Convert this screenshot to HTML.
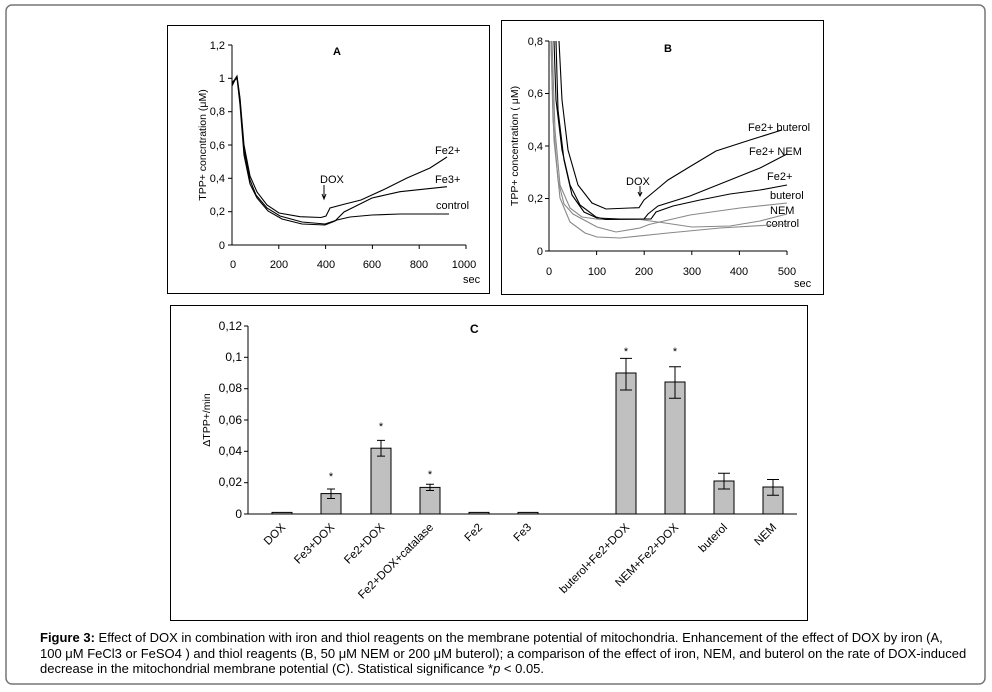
<!DOCTYPE html>
<html><head><meta charset="utf-8"><style>
body{margin:0;background:#fff;width:992px;height:692px;overflow:hidden}
svg{font-family:"Liberation Sans",Arial,sans-serif}
.cap{position:absolute;left:40px;top:630px;white-space:nowrap;font:13px/15.5px "Liberation Sans",Arial,sans-serif;color:#000}
</style></head><body>
<svg width="992" height="692" style="position:absolute;left:0;top:0">
<rect x="6" y="5" width="979" height="679" rx="6" fill="none" stroke="#777" stroke-width="1.5"/>
<!-- Panel A -->
<rect x="167.5" y="25.5" width="322" height="268" fill="none" stroke="#000"/>
<g font-size="11" fill="#000" stroke="none">
<line x1="232" y1="45" x2="232" y2="245" stroke="#000"/>
<line x1="232" y1="245" x2="466" y2="245" stroke="#000"/>
<g stroke="#000"><line x1="228" y1="45" x2="232" y2="45"/><line x1="228" y1="78.3" x2="232" y2="78.3"/><line x1="228" y1="111.7" x2="232" y2="111.7"/><line x1="228" y1="145" x2="232" y2="145"/><line x1="228" y1="178.3" x2="232" y2="178.3"/><line x1="228" y1="211.7" x2="232" y2="211.7"/><line x1="228" y1="245" x2="232" y2="245"/>
<line x1="278.8" y1="245" x2="278.8" y2="249"/><line x1="325.6" y1="245" x2="325.6" y2="249"/><line x1="372.4" y1="245" x2="372.4" y2="249"/><line x1="419.2" y1="245" x2="419.2" y2="249"/><line x1="466" y1="245" x2="466" y2="249"/></g>
<g text-anchor="end"><text x="225" y="49">1,2</text><text x="225" y="82">1</text><text x="225" y="115">0,8</text><text x="225" y="149">0,6</text><text x="225" y="182">0,4</text><text x="225" y="215">0,2</text><text x="225" y="249">0</text></g>
<g text-anchor="middle"><text x="233" y="268">0</text><text x="279" y="268">200</text><text x="326" y="268">400</text><text x="372" y="268">600</text><text x="419" y="268">800</text><text x="464" y="268">1000</text></g>
<text x="463" y="283">sec</text>
<text x="333" y="55" font-weight="bold">A</text>
<text transform="translate(206,145) rotate(-90)" text-anchor="middle" font-size="10.5">TPP+ concntration (μM)</text>
<text x="320" y="183">DOX</text><text x="435" y="154">Fe2+</text><text x="435" y="183">Fe3+</text><text x="436" y="209">control</text>
</g>
<line x1="324" y1="185" x2="324" y2="198" stroke="#000"/><path d="M322,194 L324,199 L326,194" fill="none" stroke="#000"/>
<g fill="none" stroke="#000" stroke-width="1.1">
<path d="M232,82 L235,80 L237,77 L240,100 L244,150 L250,180 L256,195 L267,208 L280,216 L302,222 L325,224 L337,220 L350,217 L372,215 L400,214 L449,214"/>
<path d="M232,86 L235,80 L237,78 L240,105 L244,155 L250,184 L257,198 L268,211 L282,219 L302,224 L325,225 L335,221 L344,212 L372,198 L400,191.7 L447,186.7"/>
<path d="M232,84 L235,79 L237,76 L240,98 L244,145 L250,176 L257,192 L267,205 L279,213 L300,216.7 L321,217.5 L326,216 L330,208 L345,204 L361,200 L385,189 L407,178 L430,168 L447,157"/>
</g>
<!-- Panel B -->
<rect x="501.5" y="20.5" width="322" height="274" fill="none" stroke="#000"/>
<g font-size="11" fill="#000">
<line x1="549" y1="41" x2="549" y2="251" stroke="#000"/>
<line x1="549" y1="251" x2="787" y2="251" stroke="#000"/>
<g stroke="#000"><line x1="545" y1="41" x2="549" y2="41"/><line x1="545" y1="93.5" x2="549" y2="93.5"/><line x1="545" y1="146" x2="549" y2="146"/><line x1="545" y1="198.5" x2="549" y2="198.5"/><line x1="545" y1="251" x2="549" y2="251"/>
<line x1="596.6" y1="251" x2="596.6" y2="255"/><line x1="644.2" y1="251" x2="644.2" y2="255"/><line x1="691.8" y1="251" x2="691.8" y2="255"/><line x1="739.4" y1="251" x2="739.4" y2="255"/><line x1="787" y1="251" x2="787" y2="255"/></g>
<g text-anchor="end"><text x="543" y="45">0,8</text><text x="543" y="97">0,6</text><text x="543" y="150">0,4</text><text x="543" y="202">0,2</text><text x="543" y="255">0</text></g>
<g text-anchor="middle"><text x="549" y="275">0</text><text x="597" y="275">100</text><text x="644" y="275">200</text><text x="692" y="275">300</text><text x="739" y="275">400</text><text x="787" y="275">500</text></g>
<text x="794" y="287">sec</text>
<text x="664" y="52" font-weight="bold">B</text>
<text transform="translate(518,146) rotate(-90)" text-anchor="middle" font-size="10.5">TPP+ concentration ( μM)</text>
<text x="626" y="185">DOX</text><text x="748" y="131">Fe2+ buterol</text><text x="749" y="155">Fe2+ NEM</text><text x="767" y="180">Fe2+</text><text x="770" y="199">buterol</text><text x="770" y="214">NEM</text><text x="766" y="227">control</text>
</g>
<line x1="640" y1="186" x2="640" y2="196" stroke="#000"/><path d="M638,192 L640,196 L642,192" fill="none" stroke="#000"/>
<g fill="none" stroke="#888" stroke-width="1.1">
<path d="M551,41 L553,120 L558,180 L564,204 L573,214 L597,227 L616,232 L640,228 L649,224.5 L690,215 L740,208 L787,203"/>
<path d="M552,41 L555,130 L560,185 L570,208 L582,217 L600,219.5 L640,219.5 L665,223 L692,227 L730,226 L760,221 L787,214"/>
<path d="M551,41 L554,140 L560,198 L570,222 L585,233 L597,237 L620,238 L668,233 L720,228 L787,224"/>
</g>
<g fill="none" stroke="#000" stroke-width="1.1">
<path d="M559,41 L562,100 L568,150 L578,185 L592,203 L606,209 L630,208 L639,207.7 L644,200 L656,190 L668,180 L691,166 L716,151 L750,140 L782,130"/>
<path d="M554,41 L556,100 L562,150 L570,185 L580,205 L596,217 L606,219.5 L644,219 L648,214 L658,206 L690,196 L730,180 L760,168 L787,154"/>
<path d="M556,41 L558,110 L564,160 L572,195 L584,212 L597,218 L620,219 L651,219 L656,212 L673,206 L700,200 L730,194 L760,190 L787,185"/>
</g>
<!-- Panel C -->
<rect x="170.5" y="305.5" width="637" height="315" fill="none" stroke="#000"/>
<g font-size="12" fill="#000">
<line x1="248" y1="326" x2="248" y2="514" stroke="#000"/>
<line x1="248" y1="514" x2="797" y2="514" stroke="#000"/>
<g stroke="#000"><line x1="244" y1="326" x2="248" y2="326"/><line x1="244" y1="357.3" x2="248" y2="357.3"/><line x1="244" y1="388.7" x2="248" y2="388.7"/><line x1="244" y1="420" x2="248" y2="420"/><line x1="244" y1="451.3" x2="248" y2="451.3"/><line x1="244" y1="482.7" x2="248" y2="482.7"/><line x1="244" y1="514" x2="248" y2="514"/></g>
<g text-anchor="end"><text x="242" y="330">0,12</text><text x="242" y="361">0,1</text><text x="242" y="392">0,08</text><text x="242" y="424">0,06</text><text x="242" y="455">0,04</text><text x="242" y="486">0,02</text><text x="242" y="518">0</text></g>
<text x="470" y="333" font-weight="bold">C</text>
<text transform="translate(210,420) rotate(-90)" text-anchor="middle" font-size="10.5">ΔTPP+/min</text>
<g fill="#c0c0c0" stroke="#000">
<rect x="272" y="512.4" width="20" height="1.6"/>
<rect x="321" y="493.6" width="20" height="20.4"/>
<rect x="371" y="448.2" width="20" height="65.8"/>
<rect x="420" y="487.4" width="20" height="26.6"/>
<rect x="469" y="512.4" width="20" height="1.6"/>
<rect x="518" y="512.4" width="20" height="1.6"/>
<rect x="616" y="373" width="20" height="141"/>
<rect x="665" y="382" width="20" height="132"/>
<rect x="714" y="481" width="20" height="33"/>
<rect x="763" y="487" width="20" height="27"/>
</g>
<g stroke="#000" fill="none">
<path d="M327,489h8M331,489v9.5M327,498.5h8"/>
<path d="M377,440.4h8M381,440.4v15.7M377,456.1h8"/>
<path d="M426,484.2h8M430,484.2v6.3M426,490.5h8"/>
<path d="M620,358.4h12M626,358.4v31.6M620,390h12"/>
<path d="M669,366.7h12M675,366.7v31.6M669,398.3h12"/>
<path d="M718,473.3h12M724,473.3v15.7M718,489h12"/>
<path d="M767,479.5h12M773,479.5v15.7M767,495.2h12"/>
</g>
<g text-anchor="middle" font-size="11"><text x="331" y="480">*</text><text x="381" y="430">*</text><text x="430" y="478">*</text><text x="626" y="355">*</text><text x="675" y="355">*</text></g>
<g text-anchor="end" font-size="11.5">
<text transform="translate(286,528) rotate(-45)">DOX</text>
<text transform="translate(335,528) rotate(-45)">Fe3+DOX</text>
<text transform="translate(385,528) rotate(-45)">Fe2+DOX</text>
<text transform="translate(434,528) rotate(-45)">Fe2+DOX+catalase</text>
<text transform="translate(483,528) rotate(-45)">Fe2</text>
<text transform="translate(532,528) rotate(-45)">Fe3</text>
<text transform="translate(630,528) rotate(-45)">buterol+Fe2+DOX</text>
<text transform="translate(679,528) rotate(-45)">NEM+Fe2+DOX</text>
<text transform="translate(728,528) rotate(-45)">buterol</text>
<text transform="translate(777,528) rotate(-45)">NEM</text>
</g>
</g>
</svg>
<div class="cap"><b>Figure 3:</b> Effect of DOX in combination with iron and thiol reagents on the membrane potential of mitochondria. Enhancement of the effect of DOX by iron (A,<br>100 μM FeCl3 or FeSO4 ) and thiol reagents (B, 50 μM NEM or 200 μM buterol); a comparison of the effect of iron, NEM, and buterol on the rate of DOX-induced<br>decrease in the mitochondrial membrane potential (C). Statistical significance *<i>p</i> &lt; 0.05.</div>
</body></html>
